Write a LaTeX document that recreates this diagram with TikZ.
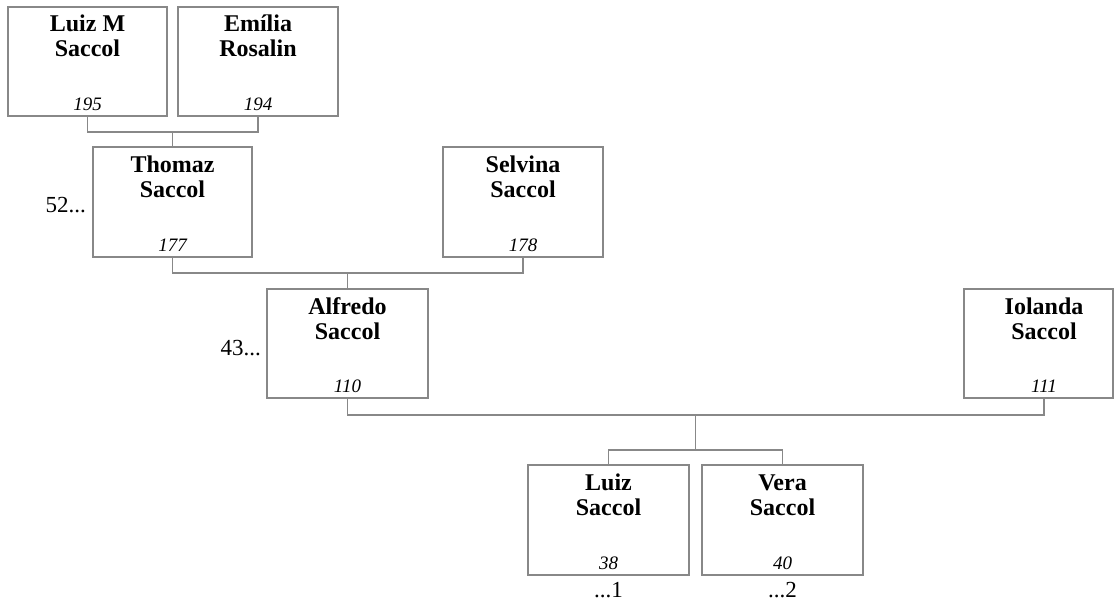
\documentclass[tikz,border=0pt]{standalone}
\usepackage{fontspec}
\setmainfont{Liberation Serif}
\begin{document}
\begin{tikzpicture}[x=1pt,y=-1pt,
  pbox/.style={draw=linegray, line width=1.1pt, minimum width=160pt, minimum height=110pt, inner sep=0pt},
  pname/.style={anchor=base, align=center, inner sep=0pt, font=\fontsize{24}{25}\selectfont\bfseries},
  pnum/.style={anchor=base, inner sep=0pt, font=\fontsize{19}{20}\selectfont\itshape},
  side/.style={inner sep=0pt, font=\fontsize{23}{25}\selectfont},
  conn/.style={draw=linegray, line width=1.1pt}]
\definecolor{linegray}{RGB}{136,136,136}
\useasboundingbox (0,0) rectangle (1115,604);
% boxes
\node[pbox, minimum width=159pt, minimum height=109pt] (lm) at (87.5,61.5) {};
\node[pbox, minimum height=109pt] (em) at (258,61.5) {};
\node[pbox, minimum width=159pt] (th) at (172.5,202) {};
\node[pbox] (se) at (523,202) {};
\node[pbox, minimum width=161pt, minimum height=109pt] (al) at (347.5,343.5) {};
\node[pbox, minimum width=149pt, minimum height=109pt] (io) at (1038.5,343.5) {};
\node[pbox, minimum width=161pt] (lu) at (608.5,520) {};
\node[pbox, minimum width=161pt] (ve) at (782.5,520) {};
% names (base anchor = baseline of the last line)
\node[pname] (lmn) at (87.5,57) {Luiz M\\Saccol};
\node[pname] (emn) at (258,57) {Emília\\Rosalin};
\node[pname] (thn) at (172.5,197) {Thomaz\\Saccol};
\node[pname] (sen) at (523,197) {Selvina\\Saccol};
\node[pname] (aln) at (347.5,339) {Alfredo\\Saccol};
\node[pname] (ion) at (1044,339) {Iolanda\\Saccol};
\node[pname] (lun) at (608.5,515) {Luiz\\Saccol};
\node[pname] (ven) at (782.5,515) {Vera\\Saccol};
% numbers
\node[pnum] (lmi) at (87.5,110.5) {195};
\node[pnum] (emi) at (258,110.5) {194};
\node[pnum] (thi) at (172.5,251.5) {177};
\node[pnum] (sei) at (523,251.5) {178};
\node[pnum] (ali) at (347.5,392.5) {110};
\node[pnum] (ioi) at (1044,392.5) {111};
\node[pnum] (lui) at (608.5,569.5) {38};
\node[pnum] (vei) at (782.5,569.5) {40};
% side labels
\node[side, anchor=base east] (s52) at (86,212) {52...};
\node[side, anchor=base east] (s43) at (261,355) {43...};
\node[side, anchor=base] (s1) at (608.5,597) {...1};
\node[side, anchor=base] (s2) at (782.5,597) {...2};
% connectors
\coordinate (j1) at (172.5,132);
\draw[conn] (lm.south) |- (j1) -| (em.south);
\draw[conn] (j1) -- (th.north);
\coordinate (j2) at (347.5,273);
\draw[conn] (th.south) |- (j2) -| (se.south);
\draw[conn] (j2) -- (al.north);
\coordinate (j3) at (695.5,415);
\coordinate (j4) at (695.5,450);
\draw[conn] (al.south) |- (j3) -| (1044,398);
\draw[conn] (j3) -- (j4);
\draw[conn] (lu.north) |- (j4) -| (ve.north);
\end{tikzpicture}
\end{document}
